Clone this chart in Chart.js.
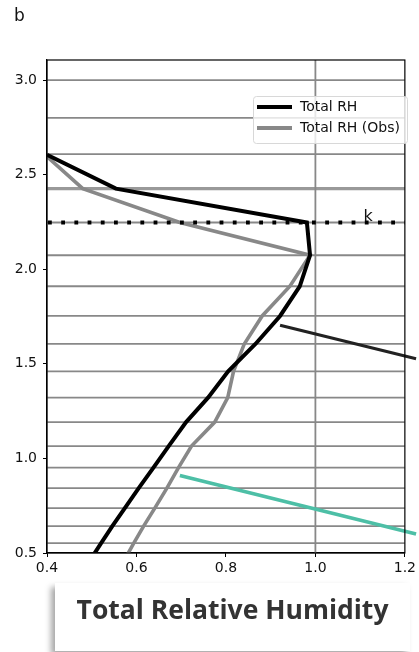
<!DOCTYPE html>
<html><head><meta charset="utf-8">
<script src="https://cdn.jsdelivr.net/npm/chart.js@4/dist/chart.umd.min.js"></script>
<style>
html,body{margin:0;padding:0;background:#fff;}
#wrap{position:relative;width:419px;height:652px;overflow:hidden;background:#fff;}
#c{position:absolute;left:0;top:0;}
#panel{position:absolute;left:14px;top:5px;font:17px "DejaVu Sans";color:#111;}
#titlebox{position:absolute;left:55px;top:583px;width:355px;height:68px;background:#fff;box-shadow:-4px 4px 6px rgba(0,0,0,0.35);box-sizing:border-box;text-align:center;font:bold 26.5px "Open Sans";color:#333;padding-top:8px;}
</style>
</head><body>
<div id="wrap">
<canvas id="c" width="419" height="652"></canvas>
<div id="panel">b</div>
<div id="titlebox">Total Relative Humidity</div>
</div>
<script>
// ---- data ----
const seriesNames = ["Total RH", "Total RH (Obs)"];
const rhY  = [2.605, 2.426, 2.247, 2.074, 1.910, 1.753, 1.605, 1.460, 1.321, 1.192, 1.065, 0.951, 0.843, 0.737, 0.642, 0.552, 0.45];
const rhX  = [0.400, 0.554, 0.981, 0.988, 0.965, 0.921, 0.866, 0.805, 0.760, 0.711, 0.672, 0.638, 0.605, 0.574, 0.546, 0.521, 0.493];
const obsY = [2.595, 2.426, 2.247, 2.074, 1.910, 1.753, 1.605, 1.460, 1.321, 1.192, 1.065, 0.951, 0.843, 0.737, 0.642, 0.552, 0.45];
const obsX = [0.400, 0.480, 0.697, 0.988, 0.943, 0.881, 0.841, 0.817, 0.804, 0.775, 0.723, 0.694, 0.668, 0.641, 0.616, 0.594, 0.570];
const levels = [3.0, 2.80, 2.608, 2.426, 2.247, 2.074, 1.910, 1.753, 1.605, 1.460, 1.321, 1.192, 1.065, 0.951, 0.843, 0.737, 0.642, 0.552];
const thickLevel = 2.426;
const kLevel = 2.247;
const kLabel = "k";
const vLine = 1.0;
const pointerDarkX = [0.921, 1.225];
const pointerDarkY = [1.704, 1.527];
const pointerTealX = [0.697, 1.225];
const pointerTealY = [0.910, 0.600];
const xTicks = [0.4, 0.6, 0.8, 1.0, 1.2];
const yTicks = [0.5, 1.0, 1.5, 2.0, 2.5, 3.0];
const xRange = [0.4, 1.2];
const yRange = [0.5, 3.106];

const zip = (xs, ys) => xs.map((x, i) => ({x: x, y: ys[i]}));

const gridPlugin = {
  id: 'gridPlugin',
  beforeDatasetsDraw(chart) {
    const {ctx, chartArea: a, scales: {x, y}} = chart;
    ctx.save();
    ctx.beginPath(); ctx.rect(a.left, a.top, a.right - a.left, a.bottom - a.top); ctx.clip();
    levels.forEach(l => {
      const py = y.getPixelForValue(l);
      ctx.beginPath();
      ctx.strokeStyle = l === thickLevel ? '#999999' : '#888888';
      ctx.lineWidth = l === thickLevel ? 3.4 : 1.8;
      ctx.moveTo(a.left, py); ctx.lineTo(a.right, py); ctx.stroke();
    });
    const px = x.getPixelForValue(vLine);
    ctx.beginPath(); ctx.strokeStyle = '#888888'; ctx.lineWidth = 1.8;
    ctx.moveTo(px, a.top); ctx.lineTo(px, a.bottom); ctx.stroke();
    ctx.restore();
  },
  afterDatasetsDraw(chart) {
    const {ctx, chartArea: a, scales: {x, y}} = chart;
    ctx.save();
    // k dotted line
    const py = y.getPixelForValue(kLevel);
    ctx.beginPath(); ctx.strokeStyle = '#000'; ctx.lineWidth = 3.8;
    ctx.setLineDash([3.8, 9.4]);
    ctx.moveTo(a.left + 1, py); ctx.lineTo(a.right, py); ctx.stroke();
    ctx.setLineDash([]);
    ctx.fillStyle = '#111'; ctx.font = '16px "DejaVu Sans"';
    ctx.textAlign = 'center'; ctx.textBaseline = 'alphabetic';
    ctx.fillText(kLabel, x.getPixelForValue(1.118), py - 2);
    // frame
    ctx.strokeStyle = '#000'; ctx.lineWidth = 1.2;
    ctx.strokeRect(a.left, a.top, a.right - a.left, a.bottom - a.top);
    // legend
    const lx = 253, ly = 96, lw = 154, lh = 47;
    ctx.fillStyle = 'rgba(255,255,255,0.8)';
    ctx.strokeStyle = '#d8d8d8'; ctx.lineWidth = 1;
    ctx.beginPath(); ctx.roundRect(lx + 0.5, ly + 0.5, lw, lh, 3); ctx.fill(); ctx.stroke();
    const ds = chart.data.datasets;
    [0, 1].forEach(i => {
      const yy = ly + 11 + i * 21;
      ctx.beginPath(); ctx.strokeStyle = ds[i].borderColor; ctx.lineWidth = 4;
      ctx.moveTo(lx + 4, yy); ctx.lineTo(lx + 39, yy); ctx.stroke();
      ctx.fillStyle = '#111'; ctx.font = '14px "DejaVu Sans"';
      ctx.textAlign = 'left'; ctx.textBaseline = 'middle';
      ctx.fillText(seriesNames[i], lx + 47, yy);
    });
    ctx.restore();
  }
};

const tickFont = {family: 'DejaVu Sans', size: 14};
new Chart(document.getElementById('c'), {
  type: 'scatter',
  data: {
    datasets: [
      {label: seriesNames[0], data: zip(rhX, rhY), showLine: true, borderColor: '#000', borderWidth: 4, pointRadius: 0, tension: 0, borderJoinStyle: 'miter'},
      {label: seriesNames[1], data: zip(obsX, obsY), showLine: true, borderColor: '#888888', borderWidth: 3.6, pointRadius: 0, tension: 0},
      {label: 'p1', data: zip(pointerDarkX, pointerDarkY), showLine: true, borderColor: '#222', borderWidth: 3, pointRadius: 0, clip: false},
      {label: 'p2', data: zip(pointerTealX, pointerTealY), showLine: true, borderColor: '#4dbfa6', borderWidth: 3.6, pointRadius: 0, clip: false}
    ]
  },
  options: {
    responsive: false, animation: false,
    layout: {padding: {left: 0, top: 60, right: 9, bottom: 69}, autoPadding: false},
    plugins: {legend: {display: false}, tooltip: {enabled: false}},
    scales: {
      x: {
        type: 'linear', min: xRange[0], max: xRange[1],
        afterBuildTicks: s => { s.ticks = xTicks.map(v => ({value: v})); },
        afterFit: s => { s.height = 30; },
        ticks: {font: tickFont, color: '#111', padding: 3, maxRotation: 0, autoSkip: false, callback: v => Number(v).toFixed(1)},
        grid: {drawOnChartArea: false, tickLength: 4, color: '#000'},
        border: {color: '#000', width: 1.2}
      },
      y: {
        type: 'linear', min: yRange[0], max: yRange[1],
        afterBuildTicks: s => { s.ticks = yTicks.map(v => ({value: v})); },
        afterFit: s => { s.width = 47; },
        ticks: {font: tickFont, color: '#111', padding: 6, autoSkip: false, callback: v => Number(v).toFixed(1)},
        grid: {drawOnChartArea: false, tickLength: 4, color: '#000'},
        border: {color: '#000', width: 1.2}
      }
    }
  },
  plugins: [gridPlugin]
});
</script>
</body></html>
